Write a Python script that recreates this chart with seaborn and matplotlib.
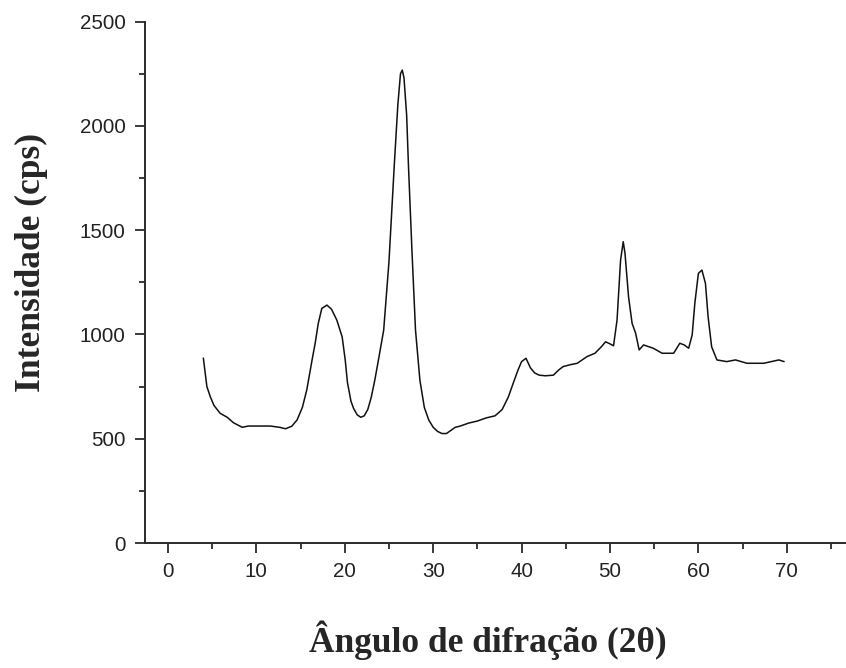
import numpy as np
import pandas as pd
import matplotlib
matplotlib.use('Agg')
import matplotlib.pyplot as plt
import seaborn as sns
from matplotlib.ticker import MultipleLocator

# diffraction pattern
angle = [4.0, 4.4, 4.8, 5.2, 5.9, 6.7, 7.4, 8.4, 9.1, 10.0, 11.0, 11.6, 12.1, 12.6, 13.3,
         14.0, 14.6, 15.2, 15.7, 16.3, 16.65, 17.0, 17.4, 17.98, 18.5, 19.1, 19.7, 20.05,
         20.3, 20.7, 21.0, 21.4, 21.8, 22.2, 22.6, 23.0, 23.4, 23.9, 24.4, 25.0, 25.6, 26.0,
         26.3, 26.5, 26.7, 27.0, 27.2, 27.6, 28.0, 28.5, 29.0, 29.5, 30.0, 30.5, 31.0,
         31.5, 32.0, 32.5, 33.0, 34.0, 35.0, 36.0, 37.0, 37.8, 38.5, 39.0, 39.6, 40.0,
         40.5, 41.0, 41.5, 42.0, 42.7, 43.6, 44.2, 44.7, 45.5, 46.3, 47.4, 48.3, 49.0,
         49.5, 50.0, 50.4, 50.8, 51.2, 51.5, 51.7, 52.1, 52.5, 52.9, 53.3, 53.8, 54.9,
         55.9, 57.2, 57.9, 58.4, 58.9, 59.3, 59.6, 60.0, 60.4, 60.8, 61.1, 61.5, 62.1,
         63.2, 64.2, 65.5, 67.4, 69.1, 69.7]
intensity = [887, 750, 700, 660, 622, 603, 577, 555, 561, 561, 561, 561, 558, 555, 548,
             560, 590, 650, 734, 878, 958, 1053, 1125, 1141, 1121, 1069, 989, 878,
             770, 680, 645, 615, 603, 610, 640, 700, 782, 900, 1021, 1350, 1813, 2100,
             2250, 2268, 2230, 2050, 1813, 1400, 1021, 780, 650, 590, 555, 535, 525,
             525, 540, 555, 560, 575, 585, 600, 610, 640, 700, 760, 830, 870,
             886, 840, 815, 805, 802, 805, 830, 846, 855, 862, 894, 910, 940,
             965, 955, 946, 1069, 1357, 1445, 1389, 1181, 1054, 1006, 926, 950, 934,
             910, 910, 958, 950, 934, 998, 1150, 1293, 1309, 1245, 1085, 941, 878,
             870, 878, 862, 862, 878, 870]

df = pd.DataFrame({'angle': angle, 'intensity': intensity})

sns.set_style('ticks')
fig = plt.figure(figsize=(8.46, 6.68), dpi=100)
ax = fig.add_axes([0.1714, 0.1871, 0.8286, 0.7804])

sns.lineplot(data=df, x='angle', y='intensity', ax=ax, color='#111111', linewidth=1.1)

ax.set_xlim(-2.6, 76.7)
ax.set_ylim(0, 2500)
ax.xaxis.set_major_locator(MultipleLocator(10))
ax.xaxis.set_minor_locator(MultipleLocator(5))
ax.yaxis.set_major_locator(MultipleLocator(500))
ax.yaxis.set_minor_locator(MultipleLocator(250))
ax.tick_params(which='major', direction='out', length=7, width=1.3, pad=7,
               labelsize=14.8, colors='#2a2a2a', labelcolor='#222222')
ax.tick_params(which='minor', direction='out', length=4, width=1.3, colors='#2a2a2a')
for lab in ax.get_xticklabels() + ax.get_yticklabels():
    lab.set_fontfamily('Liberation Sans')

sns.despine(ax=ax)
for s in ['left', 'bottom']:
    ax.spines[s].set_linewidth(1.4)
    ax.spines[s].set_color('#2a2a2a')

ax.set_xlabel('Ângulo de difração (2θ)', fontsize=25.5, fontweight='bold',
              family=['Liberation Serif', 'DejaVu Serif'])
ax.set_ylabel('Intensidade (cps)', fontsize=25.5, fontweight='bold',
              family=['Liberation Serif', 'DejaVu Serif'])
ax.xaxis.set_label_coords(0.4885, -0.149)
ax.yaxis.set_label_coords(-0.139, 0.539)

fig.savefig('out.png', dpi=100)
